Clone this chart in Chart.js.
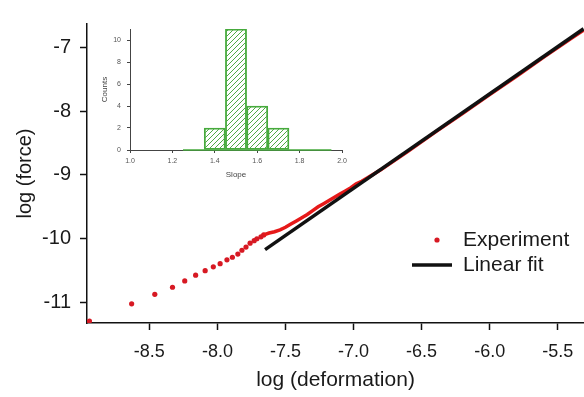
<!DOCTYPE html>
<html>
<head>
<meta charset="utf-8">
<script src="https://cdn.jsdelivr.net/npm/chart.js@4/dist/chart.umd.min.js"></script>
<style>
  body { margin: 0; background: #fff; }
  #wrap { position: relative; width: 584px; height: 397px; }
  #mainChart { position: absolute; left: 0; top: 0; }
  #inset { position: absolute; left: 100px; top: 18px; width: 250px; height: 170px; }
</style>
</head>
<body>
<div id="wrap">
  <canvas id="mainChart" width="584" height="397"></canvas>
  <div id="inset"><canvas id="insetChart" width="250" height="170"></canvas></div>
</div>
<script>
// Experiment: sparse points at small deformation
var dotX = [-8.94, -8.63, -8.46, -8.33, -8.24, -8.16, -8.09, -8.03, -7.98, -7.93, -7.89, -7.85, -7.82, -7.79, -7.76, -7.73, -7.71, -7.68, -7.66];
var dotY = [-11.29, -11.02, -10.87, -10.76, -10.66, -10.57, -10.50, -10.44, -10.39, -10.33, -10.29, -10.24, -10.18, -10.13, -10.07, -10.03, -10.00, -9.97, -9.94];
// Experiment: dense part (drawn as a line)
var curveX = [-7.66, -7.62, -7.58, -7.54, -7.50, -7.46, -7.42, -7.38, -7.34, -7.30, -7.26, -7.22, -7.18, -7.14, -7.10, -7.06, -7.02, -6.98, -6.94, -6.90, -6.80, -6.60, -6.40, -6.20, -6.00, -5.80, -5.60, -5.40, -5.31];
var curveY = [-9.94, -9.91, -9.89, -9.86, -9.82, -9.77, -9.72, -9.67, -9.62, -9.56, -9.50, -9.45, -9.40, -9.35, -9.30, -9.25, -9.20, -9.14, -9.10, -9.05, -8.92, -8.63, -8.33, -8.04, -7.74, -7.45, -7.15, -6.86, -6.73];
// Linear fit
var fitX = [-7.65, -5.31];
var fitY = [-10.17, -6.71];
var xTicks = [-8.5, -8.0, -7.5, -7.0, -6.5, -6.0, -5.5];
var yTicks = [-11, -10, -9, -8, -7];

// Inset histogram of slopes
var slopeBins = [1.3, 1.4, 1.5, 1.6, 1.7, 1.8, 1.9];
var slopeCounts = [0, 2, 11, 4, 2, 0, 0];
var slopeTicks = [1.0, 1.2, 1.4, 1.6, 1.8, 2.0];
var countTicks = [0, 2, 4, 6, 8, 10];

var font = "'Liberation Sans', Arial, sans-serif";

function pts(xs, ys) {
  return xs.map(function (x, i) { return { x: x, y: ys[i] }; });
}

function fixedTicks(list) {
  return function (scale) {
    scale.ticks = list.map(function (v) { return { value: v }; });
  };
}

function noPad(s) {
  s.paddingLeft = 0;
  s.paddingRight = 0;
  s.paddingTop = 0;
  s.paddingBottom = 0;
}

var legendPlugin = {
  id: "legendBox",
  afterDraw: function (chart) {
    var ctx = chart.ctx;
    ctx.save();
    ctx.fillStyle = "rgb(215,25,35)";
    ctx.beginPath();
    ctx.arc(437, 240, 2.6, 0, Math.PI * 2);
    ctx.fill();
    ctx.strokeStyle = "#111";
    ctx.lineWidth = 3.5;
    ctx.beginPath();
    ctx.moveTo(412, 265);
    ctx.lineTo(452, 265);
    ctx.stroke();
    ctx.fillStyle = "#1a1a1a";
    ctx.font = "21px " + font;
    ctx.textBaseline = "middle";
    ctx.fillText("Experiment", 463, 240);
    ctx.fillText("Linear fit", 463, 265);
    ctx.restore();
  }
};

var mainCtx = document.getElementById("mainChart").getContext("2d");
var mainChart = new Chart(mainCtx, {
  type: "scatter",
  data: {
    datasets: [
      {
        label: "Linear fit",
        data: pts(fitX, fitY),
        showLine: true,
        borderColor: "#111",
        borderWidth: 3.5,
        pointRadius: 0,
        order: 0,
      },
      {
        label: "Experiment curve",
        data: pts(curveX, curveY),
        showLine: true,
        borderColor: "rgb(230,25,25)",
        borderWidth: 3.5,
        pointRadius: 0,
        order: 1,
      },
      {
        label: "Experiment",
        data: pts(dotX, dotY),
        backgroundColor: "rgb(215,25,35)",
        borderWidth: 0,
        pointRadius: 2.6,
        order: 2,
      },
    ],
  },
  options: {
    responsive: false,
    animation: false,
    layout: { autoPadding: false, padding: { top: 24, right: 0, left: 0, bottom: 0 } },
    plugins: { legend: { display: false }, tooltip: { enabled: false } },
    scales: {
      x: {
        type: "linear",
        min: -8.958,
        max: -5.307,
        afterBuildTicks: fixedTicks(xTicks),
        afterFit: function (s) { s.height = 74; noPad(s); },
        border: { color: "#111", width: 1.5 },
        grid: { drawOnChartArea: false, tickLength: 7, tickColor: "#111", tickWidth: 1.5 },
        ticks: {
          color: "#1a1a1a",
          padding: 11,
          maxRotation: 0,
          font: { family: font, size: 18 },
          callback: function (v) { return v.toFixed(1); },
        },
        title: {
          display: true,
          text: "log (deformation)",
          color: "#1a1a1a",
          font: { family: font, size: 21 },
          padding: { top: 0, bottom: 4 },
        },
      },
      y: {
        type: "linear",
        min: -11.32,
        max: -6.635,
        afterBuildTicks: fixedTicks(yTicks),
        afterFit: function (s) { s.width = 87; noPad(s); },
        border: { color: "#111", width: 1.5 },
        grid: { drawOnChartArea: false, tickLength: 7, tickColor: "#111", tickWidth: 1.5 },
        ticks: {
          color: "#1a1a1a",
          padding: 9,
          font: { family: font, size: 20 },
          callback: function (v) { return String(v); },
        },
        title: {
          display: true,
          text: "log (force)",
          color: "#1a1a1a",
          font: { family: font, size: 20 },
          padding: { top: 13, bottom: 0 },
        },
      },
    },
  },
  plugins: [legendPlugin],
});

// hatch fill for the histogram bars
function hatch(color) {
  var c = document.createElement("canvas");
  c.width = 5;
  c.height = 5;
  var g = c.getContext("2d");
  g.strokeStyle = color;
  g.lineWidth = 1;
  g.beginPath();
  g.moveTo(0, 5);
  g.lineTo(5, 0);
  g.moveTo(-1, 1);
  g.lineTo(1, -1);
  g.moveTo(4, 6);
  g.lineTo(6, 4);
  g.stroke();
  return g.createPattern(c, "repeat");
}

var baselinePlugin = {
  id: "baseline",
  afterDatasetsDraw: function (chart) {
    var x = chart.scales.x, y = chart.scales.y;
    var half = (slopeBins[1] - slopeBins[0]) / 2;
    var ctx = chart.ctx;
    ctx.save();
    ctx.strokeStyle = "rgb(70,170,60)";
    ctx.lineWidth = 1.5;
    ctx.beginPath();
    ctx.moveTo(x.getPixelForValue(slopeBins[0] - half), y.getPixelForValue(0));
    ctx.lineTo(x.getPixelForValue(slopeBins[slopeBins.length - 1] + half), y.getPixelForValue(0));
    ctx.stroke();
    ctx.restore();
  }
};

var insetCtx = document.getElementById("insetChart").getContext("2d");
var insetChart = new Chart(insetCtx, {
  type: "bar",
  data: {
    datasets: [
      {
        label: "Counts",
        data: pts(slopeBins, slopeCounts),
        backgroundColor: hatch("rgb(80,170,70)"),
        borderColor: "rgb(70,170,60)",
        borderWidth: 1.2,
        borderSkipped: false,
        barPercentage: 1,
        categoryPercentage: 1,
      },
    ],
  },
  options: {
    responsive: false,
    animation: false,
    layout: { autoPadding: false, padding: { top: 11, right: 8, left: 0, bottom: 0 } },
    plugins: { legend: { display: false }, tooltip: { enabled: false } },
    scales: {
      x: {
        type: "linear",
        min: 1.0,
        max: 2.0,
        offset: false,
        afterBuildTicks: fixedTicks(slopeTicks),
        afterFit: function (s) { s.height = 38; noPad(s); },
        border: { color: "#444", width: 1 },
        grid: { drawOnChartArea: false, offset: false, tickLength: 3, tickColor: "#444" },
        ticks: {
          color: "#555",
          padding: 4,
          maxRotation: 0,
          font: { family: font, size: 7 },
          callback: function (v) { return v.toFixed(1); },
        },
        title: {
          display: true,
          text: "Slope",
          color: "#444",
          font: { family: font, size: 8 },
          padding: { top: 0, bottom: 8 },
        },
      },
      y: {
        type: "linear",
        min: 0,
        max: 11,
        afterBuildTicks: fixedTicks(countTicks),
        afterFit: function (s) { s.width = 30; noPad(s); },
        border: { color: "#444", width: 1 },
        grid: { drawOnChartArea: false, tickLength: 3, tickColor: "#444" },
        ticks: {
          color: "#555",
          padding: 6,
          font: { family: font, size: 7 },
        },
        title: {
          display: true,
          text: "Counts",
          color: "#444",
          font: { family: font, size: 8 },
          padding: { top: 0, bottom: 0 },
        },
      },
    },
  },
  plugins: [baselinePlugin],
});
</script>
</body>
</html>
